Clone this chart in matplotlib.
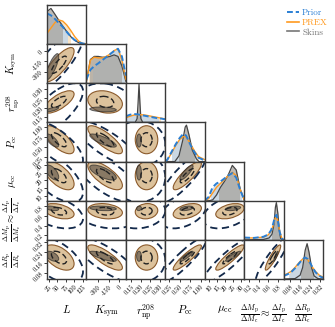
import numpy as np
import matplotlib.pyplot as plt
from matplotlib.patches import Ellipse, Rectangle
from matplotlib.lines import Line2D

plt.rcParams['font.family'] = 'serif'
plt.rcParams['font.serif'] = ['cmr10', 'DejaVu Serif']
plt.rcParams['mathtext.fontset'] = 'cm'
plt.rcParams['axes.unicode_minus'] = False

# parameters
labels = [r'$L$', r'$K_{\rm sym}$', r'$r_{\rm np}^{208}$', r'$P_{\rm cc}$', r'$\mu_{\rm cc}$',
          r'$\frac{\Delta M_{\rm p}}{\Delta M_{\rm c}}\approx\frac{\Delta I_{\rm p}}{\Delta I_{\rm c}}$',
          r'$\frac{\Delta R_{\rm p}}{\Delta R_{\rm c}}$']
ranges = [(20, 135), (-470, 100), (0.12, 0.33), (0.15, 1.1), (7, 32), (0.1, 0.92), (0.03, 0.34)]
ticks = [[25, 50, 75, 100, 125], [-300, -150, 0], [0.15, 0.20, 0.25, 0.30],
         [0.25, 0.50, 0.75, 1.00], [10, 15, 20, 25, 30], [0.2, 0.4, 0.6, 0.8],
         [0.08, 0.16, 0.24, 0.32]]
tick_text = [['25', '50', '75', '100', '125'], ['-300', '-150', '0'], ['0.15', '0.20', '0.25', '0.30'],
             ['0.25', '0.50', '0.75', '1.00'], ['10', '15', '20', '25', '30'], ['0.2', '0.4', '0.6', '0.8'],
             ['0.08', '0.16', '0.24', '0.32']]

# 1D marginals (x, height)
prior_1d = [
    ([20, 31.5, 43, 54.5, 66, 77.5, 89, 100.5, 112, 123.5, 135],
     [0.8, 0.75, 0.66, 0.55, 0.45, 0.32, 0.2, 0.11, 0.05, 0.02, 0.0]),
    ([-470, -413, -356, -299, -242, -185, -128, -71, -14, 43, 100],
     [0.1, 0.35, 0.45, 0.52, 0.6, 0.68, 0.76, 0.84, 0.9, 0.7, 0.2]),
    ([0.12, 0.141, 0.162, 0.183, 0.204, 0.225, 0.246, 0.267, 0.288, 0.309, 0.33],
     [0.16, 0.2, 0.22, 0.21, 0.19, 0.17, 0.15, 0.13, 0.11, 0.1, 0.08]),
    ([0.15, 0.2, 0.3, 0.4, 0.5, 0.58, 0.65, 0.75, 0.85, 0.95, 1.1],
     [0.0, 0.05, 0.25, 0.45, 0.62, 0.72, 0.68, 0.45, 0.25, 0.1, 0.03]),
    ([7, 9.5, 12, 14.5, 17, 19.5, 22, 24.5, 27, 29.5, 32],
     [0.0, 0.1, 0.35, 0.45, 0.5, 0.58, 0.66, 0.72, 0.6, 0.28, 0.03]),
    ([0.1, 0.3, 0.5, 0.6, 0.66, 0.7, 0.74, 0.77, 0.8, 0.84, 0.88, 0.92],
     [0.06, 0.05, 0.08, 0.14, 0.25, 0.4, 0.6, 0.65, 0.5, 0.2, 0.04, 0.0]),
    ([0.03, 0.06, 0.09, 0.12, 0.15, 0.18, 0.2, 0.22, 0.25, 0.28, 0.31, 0.34],
     [0.08, 0.12, 0.18, 0.28, 0.4, 0.52, 0.56, 0.52, 0.35, 0.18, 0.08, 0.03]),
]
prex_1d = [
    ([20, 31.5, 43, 54.5, 66, 77.5, 89, 100.5, 112, 123.5, 135],
     [0.28, 0.42, 0.56, 0.63, 0.6, 0.5, 0.36, 0.2, 0.08, 0.02, 0.0]),
    ([-470, -413, -356, -299, -242, -185, -128, -71, -14, 43, 100],
     [0.05, 0.6, 0.68, 0.66, 0.66, 0.7, 0.76, 0.85, 0.9, 0.6, 0.1]),
    ([0.12, 0.141, 0.162, 0.183, 0.204, 0.225, 0.246, 0.267, 0.288, 0.309, 0.33],
     [0.12, 0.16, 0.19, 0.2, 0.2, 0.19, 0.17, 0.15, 0.13, 0.11, 0.09]),
    ([0.15, 0.2, 0.3, 0.4, 0.5, 0.58, 0.65, 0.75, 0.85, 0.95, 1.1],
     [0.0, 0.04, 0.22, 0.42, 0.58, 0.65, 0.64, 0.48, 0.28, 0.13, 0.05]),
    ([7, 9.5, 12, 14.5, 17, 19.5, 22, 24.5, 27, 29.5, 32],
     [0.0, 0.05, 0.2, 0.35, 0.45, 0.55, 0.66, 0.74, 0.65, 0.3, 0.03]),
    ([0.1, 0.3, 0.5, 0.6, 0.66, 0.7, 0.74, 0.77, 0.8, 0.84, 0.88, 0.92],
     [0.05, 0.05, 0.07, 0.13, 0.22, 0.36, 0.55, 0.6, 0.5, 0.22, 0.05, 0.0]),
    ([0.03, 0.06, 0.09, 0.12, 0.15, 0.18, 0.2, 0.22, 0.25, 0.28, 0.31, 0.34],
     [0.1, 0.14, 0.2, 0.3, 0.42, 0.52, 0.55, 0.5, 0.34, 0.2, 0.1, 0.05]),
]
skins_1d = [
    ([20, 31.5, 43, 54.5, 66, 77.5, 89, 100.5, 112, 123.5, 135],
     [0.85, 0.93, 0.78, 0.62, 0.47, 0.33, 0.2, 0.1, 0.04, 0.01, 0.0]),
    ([-470, -413, -356, -299, -242, -185, -128, -71, -14, 43, 100],
     [0.05, 0.62, 0.7, 0.7, 0.68, 0.68, 0.7, 0.74, 0.7, 0.45, 0.05]),
    ([0.12, 0.17, 0.18, 0.185, 0.19, 0.195, 0.2, 0.21, 0.33],
     [0.0, 0.0, 0.1, 0.5, 1.0, 0.5, 0.1, 0.0, 0.0]),
    ([0.15, 0.38, 0.48, 0.57, 0.63, 0.66, 0.72, 0.8, 0.9, 0.96, 1.1],
     [0.0, 0.0, 0.15, 0.55, 0.9, 0.95, 0.7, 0.3, 0.07, 0.0, 0.0]),
    ([7, 9.5, 12, 14.5, 17, 19.5, 22, 24.5, 27, 29.5, 32],
     [0.0, 0.0, 0.02, 0.15, 0.35, 0.5, 0.68, 0.92, 0.8, 0.3, 0.02]),
    ([0.1, 0.5, 0.62, 0.68, 0.72, 0.75, 0.77, 0.8, 0.83, 0.86, 0.92],
     [0.0, 0.01, 0.05, 0.15, 0.4, 0.85, 0.97, 0.7, 0.25, 0.03, 0.0]),
    ([0.03, 0.12, 0.16, 0.18, 0.2, 0.215, 0.23, 0.25, 0.27, 0.3, 0.34],
     [0.0, 0.01, 0.1, 0.3, 0.75, 0.92, 0.7, 0.3, 0.08, 0.01, 0.0]),
]
# credible bands shaded on the diagonal
prior_band = [(20, 78), (-380, 70), (0.12, 0.29), (0.3, 0.9), (11, 30), (0.4, 0.85), (0.07, 0.3)]
prex_band = [(25, 87), (-440, 80), (0.13, 0.30), (0.3, 0.95), (12, 30), (0.45, 0.85), (0.08, 0.3)]
skins_band = [(20, 64), (-420, 30), (0.18, 0.2), (0.47, 0.85), (16, 29), (0.68, 0.83), (0.17, 0.26)]

# 2D summaries (mean, sd per parameter; shared correlations)
prior_mean = [45, -170, 0.19, 0.58, 22, 0.68, 0.18]
prior_sd = [40, 230, 0.07, 0.28, 8, 0.17, 0.09]
prex_mean = [55, -200, 0.23, 0.68, 23, 0.70, 0.20]
prex_sd = [22, 125, 0.03, 0.17, 4.5, 0.08, 0.05]
skins_mean = [35, -230, 0.19, 0.66, 25, 0.76, 0.21]
skins_sd = [12, 120, 0.008, 0.10, 3, 0.03, 0.025]
corr = [
    [1.0, 0.8, 0.7, -0.7, -0.6, -0.4, -0.5],
    [0.8, 1.0, -0.2, -0.8, -0.7, -0.2, -0.8],
    [0.7, -0.2, 1.0, 0.0, 0.0, 0.1, 0.0],
    [-0.7, -0.8, 0.0, 1.0, 0.85, 0.4, 0.9],
    [-0.6, -0.7, 0.0, 0.85, 1.0, 0.4, 0.9],
    [-0.4, -0.2, 0.1, 0.4, 0.4, 1.0, 0.9],
    [-0.5, -0.8, 0.0, 0.9, 0.9, 0.9, 1.0],
]

c_prior = '#2a7fd4'
c_prex = '#ff9a1f'
c_skins = '#454545'
navy = '#13294a'


def ellipse(ax, mean, sd, i, j, k, **kw):
    sx, sy = sd[j], sd[i]
    r = corr[i][j]
    cov = np.array([[sx * sx, r * sx * sy], [r * sx * sy, sy * sy]])
    w, v = np.linalg.eigh(cov)
    ang = np.degrees(np.arctan2(v[1, 1], v[0, 1]))
    e = Ellipse((mean[j], mean[i]), 2 * k * np.sqrt(w[1]), 2 * k * np.sqrt(w[0]), angle=ang, **kw)
    ax.add_patch(e)


n = len(labels)
fig, axes = plt.subplots(n, n, figsize=(3.35, 3.27), dpi=100)
fig.subplots_adjust(left=0.1403, right=0.9642, bottom=0.1468, top=0.9847, wspace=0, hspace=0)

for i in range(n):
    for j in range(n):
        ax = axes[i, j]
        if j > i:
            ax.axis('off')
            continue
        for s in ax.spines.values():
            s.set_color('#3a3a3a')
            s.set_linewidth(1.0)
        ax.set_xlim(ranges[j])
        if i == j:
            ax.set_ylim(0, 1.02)
            for dat, band, col, fc in [(prex_1d, prex_band, c_prex, '#f8dcb4'),
                                       (prior_1d, prior_band, c_prior, '#bcd4ee'),
                                       (skins_1d, skins_band, c_skins, '#a8a49e')]:
                x, y = dat[i]
                f = ax.fill_between(x, 0, y, color=fc, alpha=0.75, lw=0)
                lo, hi = band[i]
                f.set_clip_path(Rectangle((lo, 0), hi - lo, 2, transform=ax.transData))
            for dat, col, ls, lw in [(skins_1d, c_skins, '-', 0.9), (prex_1d, c_prex, '-', 1.0),
                                     (prior_1d, c_prior, (0, (3, 1.5)), 1.4)]:
                x, y = dat[i]
                ax.plot(x, y, color=col, ls=ls, lw=lw)
        else:
            ax.set_ylim(ranges[i])
            ellipse(ax, prex_mean, prex_sd, i, j, 2.0, fc='#dcc29c', ec='#8b5a2b', lw=0.8)
            ellipse(ax, skins_mean, skins_sd, i, j, 1.6, fc='#5d5246', ec='#222222', lw=0.7, alpha=0.65)
            ellipse(ax, prex_mean, prex_sd, i, j, 1.0, fc='none', ec='#222222', lw=1.0, ls=(0, (4, 2)))
            ellipse(ax, prior_mean, prior_sd, i, j, 2.0, fc='none', ec=navy, lw=1.3, ls=(0, (4, 2.5)))

        ax.tick_params(direction='out', length=2.5, width=0.7, color='#3a3a3a', labelsize=4.6, pad=1)
        if i == n - 1:
            ax.set_xticks(ticks[j])
            ax.set_xticklabels(tick_text[j], rotation=45, ha='right', va='top', rotation_mode='anchor')
            ax.set_xlabel(labels[j], fontsize=8)
            ax.xaxis.set_label_coords(0.5, -0.62)
        else:
            ax.set_xticks([])
        if j == 0 and i > 0:
            ax.set_yticks(ticks[i])
            ax.set_yticklabels(tick_text[i], rotation=45, ha='right', va='center', rotation_mode='anchor')
            ax.set_ylabel(labels[i], fontsize=7.5, va='center')
            ax.yaxis.set_label_coords(-0.88, 0.5)
        else:
            ax.set_yticks([])

handles = [Line2D([], [], color=c_prior, ls=(0, (3, 1.5)), lw=1.4),
           Line2D([], [], color=c_prex, lw=1.2),
           Line2D([], [], color='#777777', lw=1.2)]
fig.legend(handles, ['Prior', 'PREX', 'Skins'], loc='upper right', bbox_to_anchor=(0.995, 0.99),
           frameon=False, fontsize=6.5, labelcolor='linecolor', handlelength=1.4,
           handletextpad=0.3, labelspacing=0.15, borderaxespad=0.2)

fig.savefig('out.png', dpi=100)
